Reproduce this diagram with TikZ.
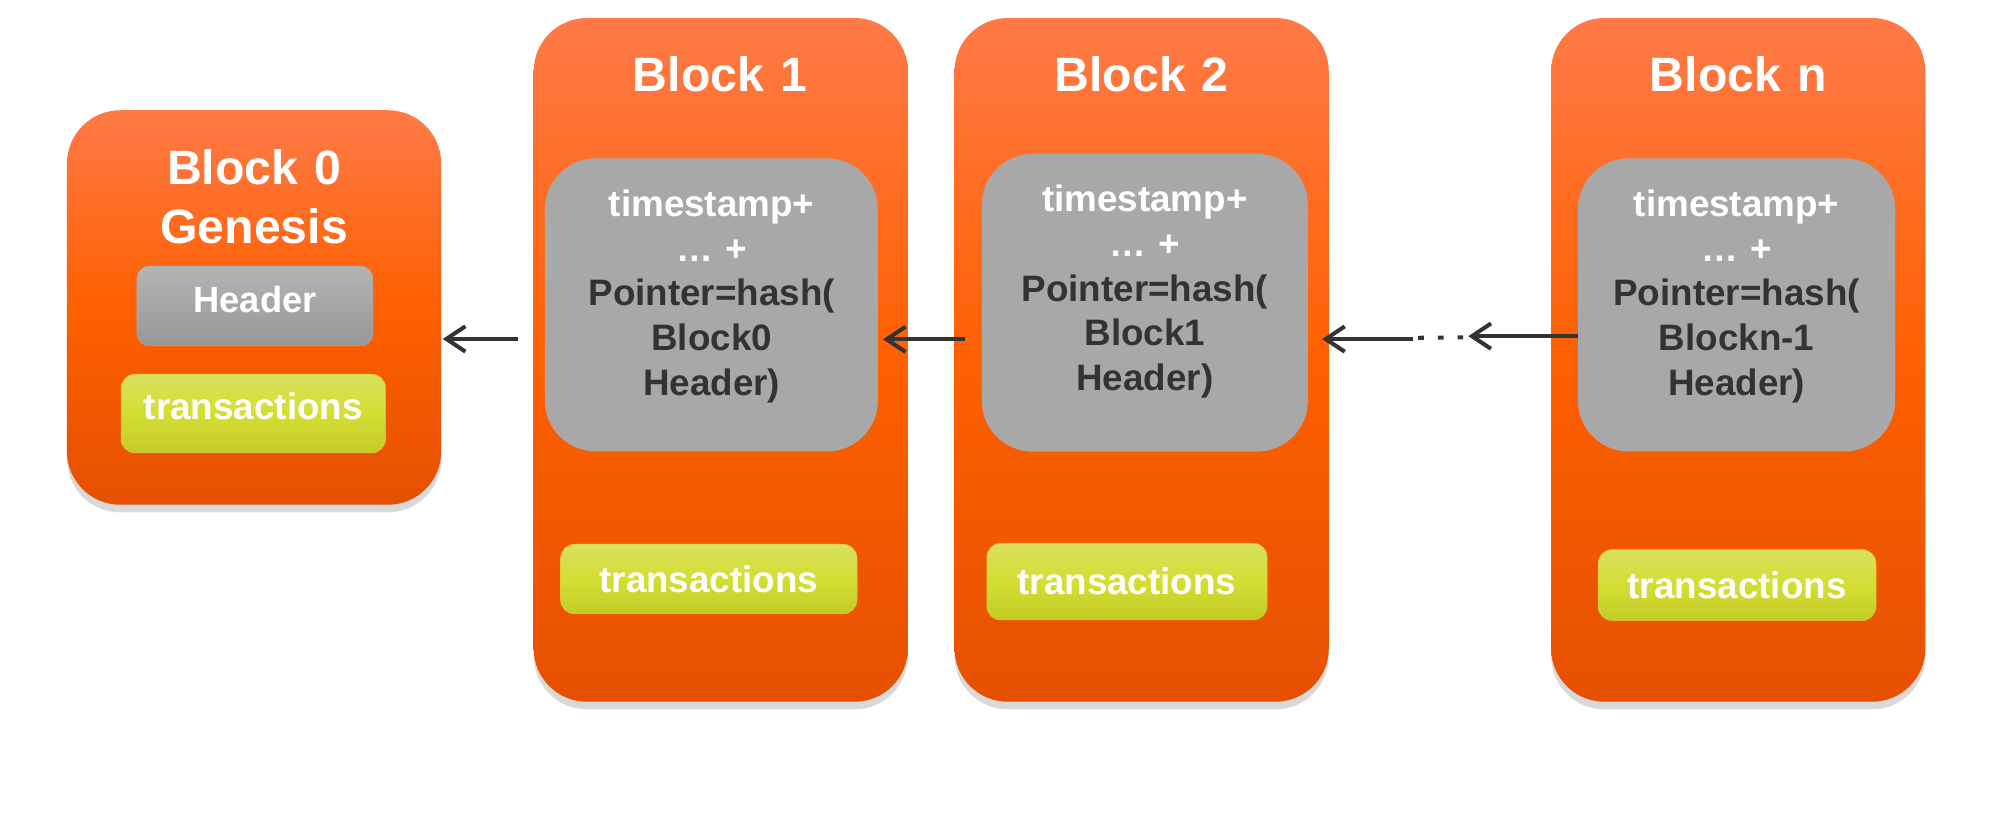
\documentclass[tikz,border=0pt]{standalone}
\usepackage{fontspec}
\setmainfont{Liberation Sans}
\usetikzlibrary{arrows.meta,calc,positioning,shadows}
\definecolor{chaintop}{HTML}{FF7A48}
\definecolor{chainmid}{HTML}{FF6000}
\definecolor{chainbottom}{HTML}{E55000}
\definecolor{hashgray}{HTML}{A8A8A8}
\definecolor{hashink}{HTML}{333333}
\definecolor{headtop}{HTML}{B4B4B4}
\definecolor{headbottom}{HTML}{979797}
\definecolor{txtop}{HTML}{D9E05C}
\definecolor{txmid}{HTML}{D4DE32}
\definecolor{txbottom}{HTML}{C3CB26}
\tikzset{%
	chainblock/.style = {rectangle, rounded corners=42pt, top color=chaintop, bottom color=chainbottom, middle color=chainmid, drop shadow={shadow xshift=0pt, shadow yshift=-6pt, opacity=0.3}, minimum width=295pt, minimum height=539pt, inner sep=0pt},
	blocktitle/.style = {anchor=base, text=white, text width=280pt, align=center, font=\fontsize{38}{45.8}\selectfont\bfseries},
	hashbox/.style    = {rectangle, rounded corners=40pt, fill=hashgray, minimum height=231pt, inner sep=0pt},
	hashtext/.style   = {anchor=base, text=hashink, text width=250pt, align=center, font=\fontsize{29}{35.2}\selectfont\bfseries},
	headbox/.style    = {rectangle, rounded corners=10pt, top color=headtop, bottom color=headbottom, draw=headbottom!80!white, text=white, font=\fontsize{28.6}{34}\selectfont\bfseries, minimum width=186pt, minimum height=63pt, inner sep=0pt},
	txbox/.style      = {rectangle, rounded corners=11pt, top color=txtop, bottom color=txbottom, middle color=txmid, draw=txtop!70!orange, text=white, font=\fontsize{29}{34}\selectfont\bfseries, minimum height=56pt, inner sep=0pt},
	ptr/.style        = {-{Straight Barb[length=15pt,width=20pt]}, line width=3.2pt, draw=hashink},
	ptrdots/.style    = {line width=3.2pt, draw=hashink, dash pattern=on 4.5pt off 11pt},
}
\begin{document}
\begin{tikzpicture}[x=1pt,y=-1pt]
	\useasboundingbox (0,0) rectangle (1568,642.5);
	% genesis block
	\node[chainblock, minimum height=311pt] (b0) at (200.3,242.4) {};
	\node[blocktitle] (b0title) at (200.3,145.8) {Block 0\\Genesis};
	\node[headbox, text height=20.5pt, text depth=10pt] (h0) at (201,241.2) {Header};
	\node[txbox, minimum width=208.6pt, minimum height=62pt, text height=20pt, text depth=10pt] (t0) at (199.7,326) {transactions};
	
	% block 1
	\node[chainblock] (b1) at (568.2,283.7) {};
	\node[blocktitle] (b1title) at (567.6,72.3) {Block 1};
	\node[hashbox, minimum width=262.4pt] (g1) at (560.8,240.4) {};
	\node[hashtext] (g1text) at (561,170.8) {\textcolor{white}{timestamp+}\\\textcolor{white}{… +}\\Pointer=hash(\\Block0\\Header)};
	\node[txbox, minimum width=233.6pt, minimum height=55pt] (t1) at (558.8,456.5) {transactions};
	
	% block 2
	\node[chainblock] (b2) at (900,283.7) {};
	\node[blocktitle] (b2title) at (900,72.3) {Block 2};
	\node[hashbox, minimum width=257pt, minimum height=234.6pt] (g2) at (902.5,238.7) {};
	\node[hashtext] (g2text) at (902.5,166.9) {\textcolor{white}{timestamp+}\\\textcolor{white}{… +}\\Pointer=hash(\\Block1\\Header)};
	\node[txbox, minimum width=221pt, minimum height=60.5pt] (t2) at (888.4,458.5) {transactions};
	
	% block n
	\node[chainblock] (bn) at (1370.3,283.7) {};
	\node[blocktitle] (bntitle) at (1370.3,72.3) {Block n};
	\node[hashbox, minimum width=250pt] (gn) at (1369,240.4) {};
	\node[hashtext] (gntext) at (1369,170.8) {\textcolor{white}{timestamp+}\\\textcolor{white}{… +}\\Pointer=hash(\\Blockn-1\\Header)};
	\node[txbox, minimum width=219pt] (tn) at (1369.4,461.2) {transactions};
	
	% hash pointers
	\coordinate (a1) at (408.6,267.2);
	\coordinate (a2) at (760.7,267.5);
	\coordinate (a3) at (1114,267.3);
	\coordinate (dn) at (1157.5,265);
	\draw[ptr, shorten >=1pt] (a1) -- (a1 -| b0.east);
	\draw[ptr, shorten >=3.8pt] (a2) -- (a2 -| g1.east);
	\draw[ptr, shorten >=-5.5pt] (a3) -- (a3 -| b2.east);
	\draw[ptrdots] ($(a3)+(4,-1)$) -- ($(dn)+(-4,1)$);
	\draw[ptr] (gn.west |- dn) -- (dn);
\end{tikzpicture}
\end{document}
